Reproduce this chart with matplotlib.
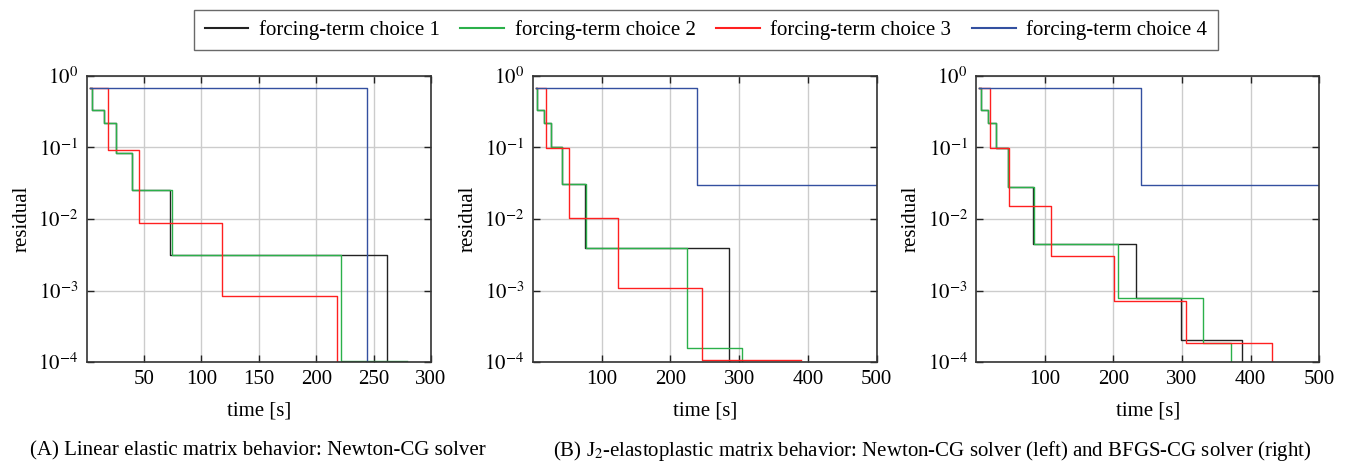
import matplotlib
matplotlib.use("Agg")
import matplotlib.pyplot as plt
from matplotlib.ticker import FixedLocator, NullLocator

plt.rcParams["font.family"] = ["Liberation Serif", "DejaVu Serif"]
plt.rcParams["mathtext.fontset"] = "stix"
plt.rcParams["font.size"] = 15

FS = 15

labels = ["forcing-term choice 1", "forcing-term choice 2",
          "forcing-term choice 3", "forcing-term choice 4"]
colors = ["#222222", "#2bb04a", "#ff2020", "#3350a0"]

# (A) linear elastic, Newton-CG: (time, residual) step histories
a_t1 = [3, 5, 15.4, 25.3, 39.2, 72.6, 261.4, 263]
a_r1 = [0.68, 0.334, 0.222, 0.0844, 0.0256, 0.00318, 1.0e-4, 1.0e-4]
a_t2 = [3, 5, 15.4, 25.3, 39.2, 74, 222, 279]
a_r2 = [0.68, 0.334, 0.222, 0.0844, 0.0256, 0.00318, 1.03e-4, 1.03e-4]
a_t3 = [3, 18.9, 45.9, 117.6, 217.8, 219]
a_r3 = [0.68, 0.093, 0.0089, 0.00085, 1.0e-4, 1.0e-4]
a_t4 = [3, 244.5, 245.5]
a_r4 = [0.68, 1.0e-4, 1.0e-4]

# (B) J2-elastoplastic, Newton-CG
b_t1 = [4.8, 6.8, 17, 26.6, 42.6, 75.6, 285, 287.3]
b_r1 = [0.68, 0.334, 0.222, 0.1, 0.0307, 0.0039, 1.0e-4, 1.0e-4]
b_t2 = [4.8, 6.8, 17, 26.6, 42.6, 77.5, 223.8, 303.9, 305]
b_r2 = [0.68, 0.334, 0.222, 0.1, 0.0307, 0.0039, 1.58e-4, 1.0e-4, 1.0e-4]
b_t3 = [4.8, 19.9, 53.3, 124.5, 245.6, 390]
b_r3 = [0.68, 0.097, 0.0102, 0.00108, 1.08e-4, 1.08e-4]
b_t4 = [4.8, 238.4, 500]
b_r4 = [0.68, 0.0298, 0.0298]

# (B) J2-elastoplastic, BFGS-CG
c_t1 = [3.9, 6.8, 18, 29.1, 47.1, 83.5, 233, 298, 387, 388]
c_r1 = [0.68, 0.334, 0.222, 0.098, 0.0283, 0.00454, 0.00078, 2.01e-4, 1.0e-4, 1.0e-4]
c_t2 = [3.9, 6.8, 18, 29.1, 47.1, 85, 206.8, 330, 371, 372]
c_r2 = [0.68, 0.334, 0.222, 0.098, 0.0283, 0.00454, 0.00078, 1.85e-4, 1.0e-4, 1.0e-4]
c_t3 = [3.9, 20.9, 47.6, 109, 201, 305.8, 431, 432]
c_r3 = [0.68, 0.097, 0.0151, 0.003, 0.00072, 1.85e-4, 1.0e-4, 1.0e-4]
c_t4 = [3.9, 240.8, 500]
c_r4 = [0.68, 0.0298, 0.0298]

panels = [
    ([(a_t1, a_r1), (a_t2, a_r2), (a_t3, a_r3), (a_t4, a_r4)], 300, [50, 100, 150, 200, 250, 300]),
    ([(b_t1, b_r1), (b_t2, b_r2), (b_t3, b_r3), (b_t4, b_r4)], 500, [100, 200, 300, 400, 500]),
    ([(c_t1, c_r1), (c_t2, c_r2), (c_t3, c_r3), (c_t4, c_r4)], 500, [100, 200, 300, 400, 500]),
]

ytick_vals = [1e-4, 1e-3, 1e-2, 1e-1, 1e0]
ytick_labels = [r"$10^{-4}$", r"$10^{-3}$", r"$10^{-2}$", r"$10^{-1}$", r"$10^{0}$"]

W, H = 1349, 465
fig = plt.figure(figsize=(W / 100, H / 100), dpi=100)

boxes = [(86.7, 344.3), (532.7, 344.0), (976.0, 343.3)]
top_px, bot_px = 76, 362

handles = []
for (series, xmax, xticks), (lx, wx) in zip(panels, boxes):
    ax = fig.add_axes([lx / W, (H - bot_px) / H, wx / W, (bot_px - top_px) / H])
    ax.set_yscale("log")
    hs = []
    for (t, r), c, lab in zip(series, colors, labels):
        h, = ax.plot(t, r, drawstyle="steps-post", color=c, lw=1.0, label=lab)
        hs.append(h)
    handles = hs
    ax.set_xlim(0, xmax)
    ax.set_ylim(1e-4, 1e0)
    ax.xaxis.set_major_locator(FixedLocator(xticks))
    ax.set_xticklabels([str(v) for v in xticks])
    ax.yaxis.set_major_locator(FixedLocator(ytick_vals))
    ax.yaxis.set_minor_locator(NullLocator())
    ax.set_yticklabels(ytick_labels)
    ax.grid(True, color="#cccccc", lw=1.0)
    ax.set_axisbelow(True)
    ax.tick_params(direction="in", length=5, width=1.0, top=True, right=True,
                   labelsize=FS, pad=6, color="#222222")
    for s in ax.spines.values():
        s.set_linewidth(1.2)
        s.set_color("#333333")
    ax.set_xlabel("time [s]", fontsize=FS, labelpad=9)
    ax.set_ylabel("residual", fontsize=FS, labelpad=5)

leg = fig.legend(handles, labels, loc="center", bbox_to_anchor=(706 / W, 1 - 30 / H),
                 ncol=4, frameon=True, fancybox=False, fontsize=FS,
                 handlelength=2.1, handletextpad=0.5, columnspacing=1.0,
                 borderpad=0.5, edgecolor="#444444")
leg.get_frame().set_linewidth(1.0)
for ln in leg.get_lines():
    ln.set_linewidth(1.5)

fig.text(258 / W, 1 - 451 / H, "(A) Linear elastic matrix behavior: Newton-CG solver",
         ha="center", va="center", fontsize=FS)
fig.text(932 / W, 1 - 451 / H,
         r"(B) J$_2$-elastoplastic matrix behavior: Newton-CG solver (left) and BFGS-CG solver (right)",
         ha="center", va="center", fontsize=FS)

fig.savefig("out.png", dpi=100)
